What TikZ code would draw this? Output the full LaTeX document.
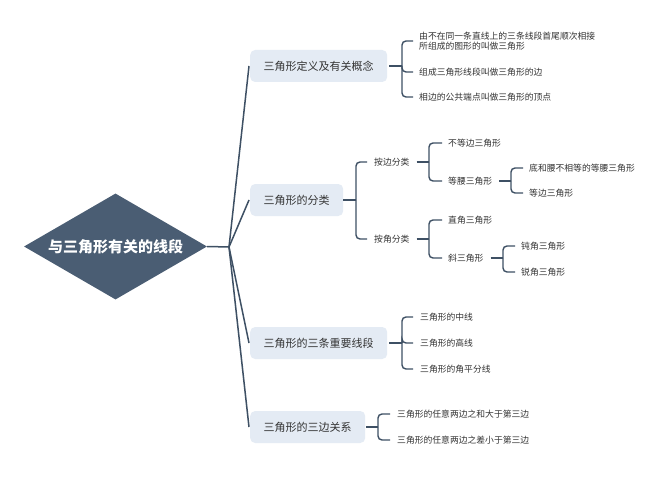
\documentclass[tikz,border=0pt]{standalone}
\usepackage{fontspec}
\setmainfont{Noto Sans CJK SC}
\usetikzlibrary{shapes.geometric}
\definecolor{linec}{HTML}{3E5064}
\definecolor{rootc}{HTML}{4A5D73}
\definecolor{boxc}{HTML}{E4EBF4}
\definecolor{txtc}{HTML}{333333}
\begin{document}
\begin{tikzpicture}[x=1pt,y=-1pt,
  trunk/.style={draw=linec, line width=1.5pt},
  conn/.style={draw=linec, line width=1.4pt, rounded corners=4pt},
  root/.style={diamond, aspect=1.73, fill=rootc, minimum width=183pt, minimum height=106pt, inner sep=0pt, text=white, font=\fontsize{15}{18}\selectfont\bfseries},
  topic/.style={rectangle, rounded corners=5pt, fill=boxc, inner xsep=13.5pt, inner ysep=0pt, minimum height=32pt, text=txtc, font=\fontsize{11}{13}\selectfont, anchor=west},
  leaf/.style={inner sep=0pt, anchor=west, text=txtc, font=\fontsize{8.8}{10.5}\selectfont, align=left}
]
\useasboundingbox[fill=white] (0,0) rectangle (666,500);

% root and topics
\node[root] (root) at (115.5,246.5) {与三角形有关的线段};
\coordinate (fork) at (229,247);
\node[topic] (t1) at (250,66) {三角形定义及有关概念};
\node[topic] (t2) at (250,200) {三角形的分类};
\node[topic] (t3) at (250,343) {三角形的三条重要线段};
\node[topic] (t4) at (250,427) {三角形的三边关系};

\draw[trunk] (root.east) -- (fork);
\foreach \t in {t1,t2,t3,t4} \draw[trunk] (fork) -- ([xshift=-1pt]\t.west);

% topic 1
\node[leaf] (a1) at (419,41) {由不在同一条直线上的三条线段首尾顺次相接\\所组成的图形的叫做三角形};
\node[leaf] (a2) at (419,72) {组成三角形线段叫做三角形的边};
\node[leaf] (a3) at (419,97) {相边的公共端点叫做三角形的顶点};
\coordinate (k1) at (402,66);
\draw[trunk] ([xshift=2pt]t1.east) -- (k1);
\foreach \c in {a1,a2,a3} \draw[conn] (k1) |- ([xshift=-6pt]\c.west);

% topic 2
\node[leaf] (b1) at (374,162) {按边分类};
\node[leaf] (b2) at (374,239) {按角分类};
\coordinate (k2) at (356,200);
\draw[trunk] (t2.east) -- (k2);
\foreach \c in {b1,b2} \draw[conn] (k2) |- ([xshift=-7pt]\c.west);

\node[leaf] (c1) at (448,143) {不等边三角形};
\node[leaf] (c2) at (448,181) {等腰三角形};
\coordinate (k3) at (429,162);
\draw[trunk] ([xshift=7pt]b1.east) -- (k3);
\foreach \c in {c1,c2} \draw[conn] (k3) |- ([xshift=-6pt]\c.west);

\node[leaf] (d1) at (529,168) {底和腰不相等的等腰三角形};
\node[leaf] (d2) at (529,193) {等边三角形};
\coordinate (k4) at (511,181);
\draw[trunk] ([xshift=7pt]c2.east) -- (k4);
\foreach \c in {d1,d2} \draw[conn] (k4) |- ([xshift=-6pt]\c.west);

\node[leaf] (c3) at (448,220) {直角三角形};
\node[leaf] (c4) at (448,258) {斜三角形};
\coordinate (k5) at (429,239);
\draw[trunk] ([xshift=7pt]b2.east) -- (k5);
\foreach \c in {c3,c4} \draw[conn] (k5) |- ([xshift=-6pt]\c.west);

\node[leaf] (e1) at (521,246) {钝角三角形};
\node[leaf] (e2) at (521,272) {锐角三角形};
\coordinate (k6) at (503,258);
\draw[trunk] ([xshift=7pt]c4.east) -- (k6);
\foreach \c in {e1,e2} \draw[conn] (k6) |- ([xshift=-6pt]\c.west);

% topic 3
\node[leaf] (f1) at (420,317) {三角形的中线};
\node[leaf] (f2) at (420,343) {三角形的高线};
\node[leaf] (f3) at (420,369) {三角形的角平分线};
\coordinate (k7) at (402,343);
\draw[trunk] ([xshift=2pt]t3.east) -- (k7);
\foreach \c in {f1,f2,f3} \draw[conn] (k7) |- ([xshift=-7pt]\c.west);

% topic 4
\node[leaf] (g1) at (397,414) {三角形的任意两边之和大于第三边};
\node[leaf] (g2) at (397,440) {三角形的任意两边之差小于第三边};
\coordinate (k8) at (378,427);
\draw[trunk] ([xshift=1pt]t4.east) -- (k8);
\foreach \c in {g1,g2} \draw[conn] (k8) |- ([xshift=-7pt]\c.west);
\end{tikzpicture}
\end{document}
